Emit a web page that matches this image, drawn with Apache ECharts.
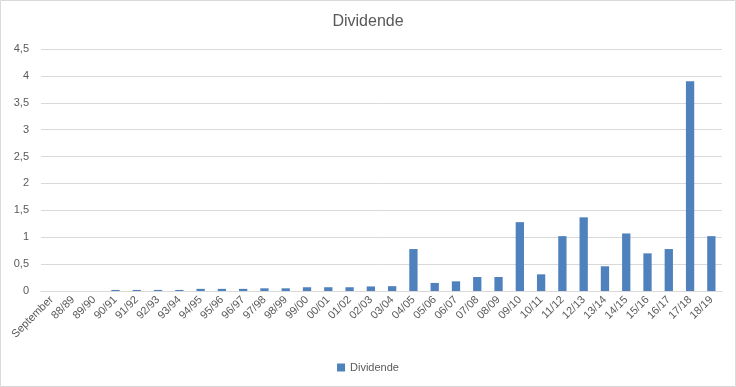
<!DOCTYPE html>
<html><head><meta charset="utf-8">
<script src="https://cdn.jsdelivr.net/npm/echarts@6/dist/echarts.min.js"></script>
<style>html,body{margin:0;padding:0;background:#fff}#c{width:736px;height:387px}</style>
</head><body><div id="c"></div>
<script>
const categories = ["September","88/89","89/90","90/91","91/92","92/93","93/94","94/95","95/96","96/97","97/98","98/99","99/00","00/01","01/02","02/03","03/04","04/05","05/06","06/07","07/08","08/09","09/10","10/11","11/12","12/13","13/14","14/15","15/16","16/17","17/18","18/19"];
const dividende = [0,0,0,0.02,0.02,0.02,0.02,0.04,0.04,0.04,0.05,0.05,0.07,0.07,0.07,0.085,0.09,0.78,0.15,0.18,0.26,0.26,1.28,0.31,1.02,1.37,0.46,1.07,0.70,0.78,3.90,1.02];
const seriesName = "Dividende";
const titleText = "Dividende";

const chart = echarts.init(document.getElementById('c'));
const font = "'Liberation Sans', Arial, sans-serif";
chart.setOption({
  animation:false,
  textStyle:{fontFamily:font},
  title:{text:titleText,left:'center',top:9,textStyle:{fontFamily:font,fontSize:16,fontWeight:'normal',color:'#595959'}},
  graphic:[{type:'rect',shape:{x:0.5,y:0.5,width:735,height:386},style:{fill:'none',stroke:'#d9d9d9',lineWidth:1},silent:true}],
  legend:{bottom:9,left:'center',itemWidth:8,itemHeight:8,icon:'rect',textStyle:{fontFamily:font,fontSize:11,color:'#595959'},data:[seriesName]},
  grid:{left:41,right:14,top:49,bottom:96,containLabel:false},
  xAxis:{type:'category',data:categories,
    axisLine:{lineStyle:{color:'#d9d9d9'}},axisTick:{show:false},
    axisLabel:{rotate:45,interval:0,fontSize:11,color:'#595959',fontFamily:font,margin:7}},
  yAxis:{type:'value',min:0,max:4.5,interval:0.5,
    axisLine:{show:false},axisTick:{show:false},
    splitLine:{lineStyle:{color:'#d9d9d9'}},
    axisLabel:{fontSize:11,color:'#595959',fontFamily:font,margin:12,formatter:v=>String(v).replace('.',',')}},
  series:[{name:seriesName,type:'bar',data:dividende,barWidth:'39%',itemStyle:{color:'#4F81BD'}}]
});
</script></body></html>
